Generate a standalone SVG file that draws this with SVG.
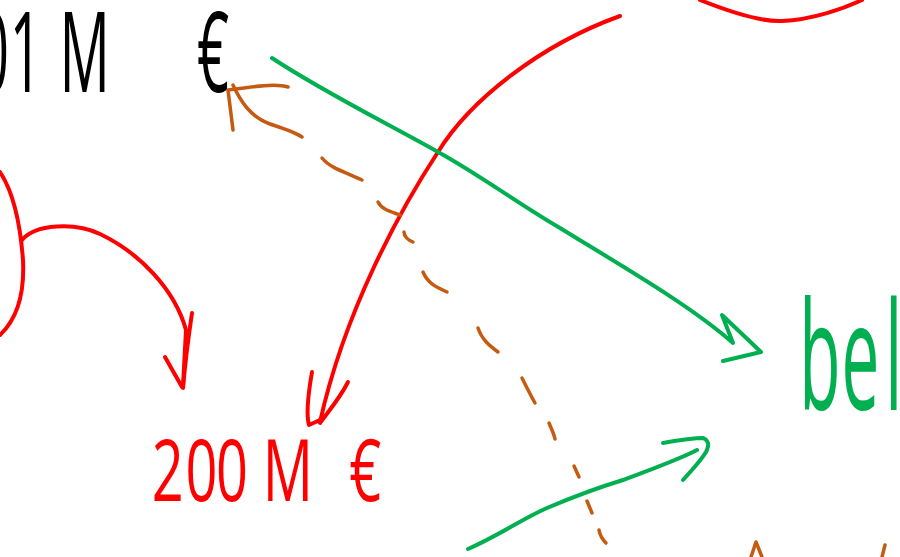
<svg xmlns="http://www.w3.org/2000/svg" width="900" height="557" viewBox="0 0 900 557">
<style>
.hand{font-family:"Open Sans","Liberation Sans",sans-serif;font-weight:400;text-anchor:middle}
.s{fill:none;stroke-linecap:round;stroke-linejoin:round}
.red{stroke:#FF0000;stroke-width:4}
.grn{stroke:#00B050;stroke-width:4}
.brn{stroke:#C55A11;stroke-width:3.5}
</style>
<rect width="900" height="557" fill="#fff"/>
<g id="label-top">
<text class="hand" font-size="112" fill="#000" transform="scale(0.5,1)" y="92"><tspan x="-14">0</tspan><tspan x="66">1</tspan> <tspan x="184">M</tspan> <tspan x="426">€</tspan></text>
</g>
<g id="label-200">
<text class="hand" font-size="86" fill="#FF0000" transform="scale(0.65,1)" y="501"><tspan x="258">2</tspan><tspan x="310">0</tspan><tspan x="368">0</tspan> <tspan x="454">M</tspan> <tspan x="562">€</tspan></text>
</g>
<g id="label-bel">
<text class="hand" font-size="150" fill="#00B050" transform="scale(0.45,1)" y="410"><tspan x="1822">b</tspan><tspan x="1912">e</tspan><tspan x="1986">l</tspan></text>
</g>
<g id="bottom-fragments">
<path class="s brn" d="M 751 557 L 756 542 L 762 557"/>
<path class="s brn" d="M 885 545 L 882 557"/>
</g>
<g id="connectors">
<path class="s red" d="M 700 0 C 730 12, 760 22, 782 21 C 812 20, 845 8, 862 0"/>
<path class="s red" d="M 620 16 C 540 45, 470 100, 438 152 C 400 210, 345 310, 320 422"/>
<path class="s red" d="M 312 372 C 308 395, 306 415, 309 425 L 320 420 M 348 382 C 340 398, 328 412, 320 423"/>
<path class="s red" d="M 0 172 C 12 190, 20 220, 23 260 C 25 300, 14 322, 0 335"/>
<path class="s red" d="M 22 240 C 35 224, 75 222, 100 234 C 140 253, 175 290, 186 330 L 183 386"/>
<path class="s red" d="M 192 313 C 188 340, 185 365, 183 388 M 165 357 L 182 387"/>
<path class="s grn" d="M 272 58 C 320 90, 390 125, 438 152 C 480 175, 520 205, 560 228 C 620 265, 690 305, 733 343 L 722 315 L 761 352 L 723 361"/>
<path class="s grn" d="M 468 549 C 500 535, 520 520, 547 508 C 580 494, 600 487, 623 480 C 650 470, 680 459, 697 450"/>
<path class="s grn" d="M 663 443 C 680 440, 695 438, 703 438 C 708 440, 710 444, 706 452 C 700 462, 690 472, 683 480"/>
<path class="s brn" d="M 233 130 L 228 90 C 250 87, 275 83, 288 87"/>
<path class="s brn" d="M 233 85 C 240 100, 250 117, 270 124 C 285 129, 295 132, 302 137"/>
<path class="s brn" d="M 322 158 C 330 168, 345 172, 362 180"/>
<path class="s brn" d="M 378 202 C 382 210, 392 212, 400 215"/>
<path class="s brn" d="M 404 232 C 404 236, 408 240, 413 242"/>
<path class="s brn" d="M 423 272 C 428 284, 438 288, 447 292"/>
<path class="s brn" d="M 478 328 C 482 340, 490 346, 498 352"/>
<path class="s brn" d="M 522 378 C 527 388, 531 396, 535 403"/>
<path class="s brn" d="M 549 423 C 552 430, 554 434, 555 439"/>
<path class="s brn" d="M 574 466 L 579 477"/>
<path class="s brn" d="M 587 501 L 592 513"/>
<path class="s brn" d="M 599 530 C 600 536, 603 540, 606 543"/>
</g>
</svg>
